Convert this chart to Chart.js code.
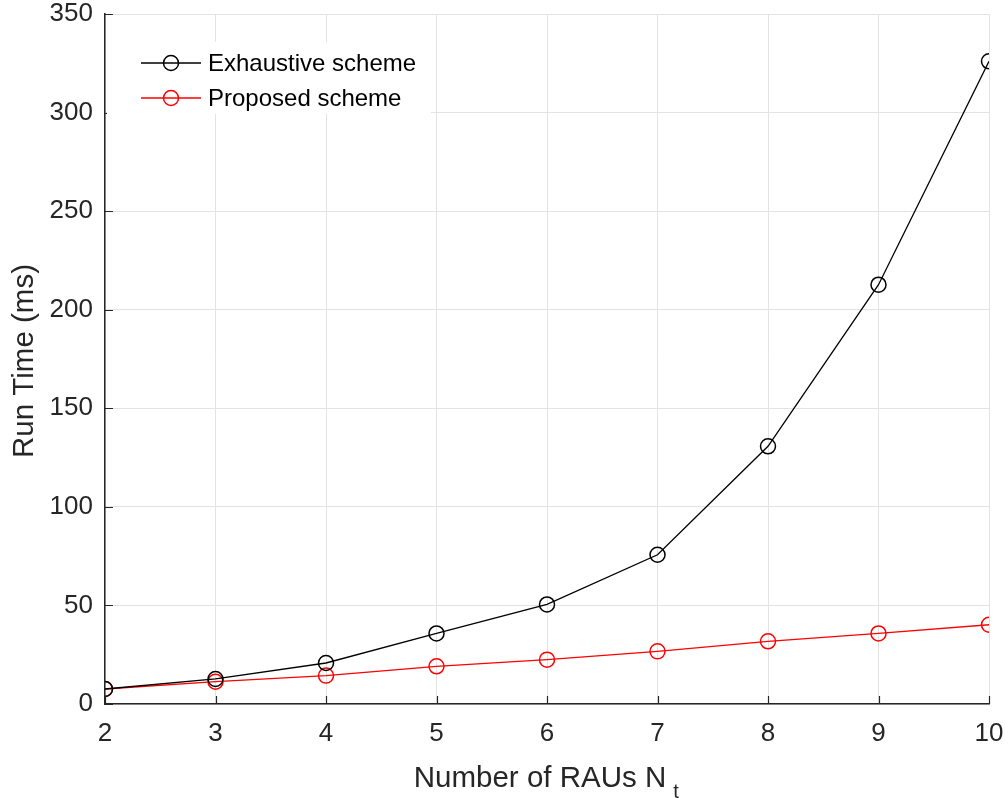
<!DOCTYPE html>
<html>
<head>
<meta charset="utf-8">
<script src="https://cdn.jsdelivr.net/npm/chart.js@4.4.1/dist/chart.umd.min.js"></script>
<style>
  html, body { margin: 0; padding: 0; background: #fff; }
  #wrap { width: 1008px; height: 798px; position: relative; }
</style>
</head>
<body>
<div id="wrap"><canvas id="c" width="1008" height="798"></canvas></div>
<script>
// Number of RAUs
const numRAUs = [2, 3, 4, 5, 6, 7, 8, 9, 10];
// Run time in milliseconds
const exhaustiveTime = [7.6, 12.7, 20.8, 35.8, 50.5, 75.7, 130.7, 212.7, 326];
const proposedTime   = [7.6, 11.3, 14.4, 19.1, 22.5, 26.7, 31.8, 35.8, 40.2];
const seriesNames = ['Exhaustive scheme', 'Proposed scheme'];
const yTicks = [0, 50, 100, 150, 200, 250, 300, 350];

const FONT = '"Liberation Sans", Arial, Helvetica, sans-serif';
const AXIS_COLOR = '#262626';

function toPoints(xs, ys) { return xs.map((x, i) => ({ x: x, y: ys[i] })); }

// Inward tick marks, MATLAB style
const innerTicks = {
  id: 'innerTicks',
  afterDatasetsDraw(chart) {
    const { ctx, chartArea: a, scales: { x, y } } = chart;
    ctx.save();
    ctx.strokeStyle = AXIS_COLOR;
    ctx.lineWidth = 1.2;
    ctx.beginPath();
    numRAUs.forEach(v => {
      const px = Math.round(x.getPixelForValue(v)) + 0.5;
      ctx.moveTo(px, a.bottom); ctx.lineTo(px, a.bottom - 8);
    });
    yTicks.forEach(v => {
      const py = Math.round(y.getPixelForValue(v)) + 0.5;
      ctx.moveTo(a.left, py); ctx.lineTo(a.left + 8, py);
    });
    ctx.stroke();
    ctx.restore();
  }
};

// Legend box inside the plot area
const innerLegend = {
  id: 'innerLegend',
  afterDatasetsDraw(chart) {
    const { ctx, chartArea: a } = chart;
    ctx.save();
    ctx.fillStyle = '#ffffff';
    ctx.fillRect(a.left + 2, 42, 431 - a.left - 2, 72);
    ctx.font = '24px ' + FONT;
    ctx.textBaseline = 'middle';
    chart.data.datasets.forEach((ds, i) => {
      const cy = 63 + i * 35;
      ctx.strokeStyle = ds.borderColor;
      ctx.lineWidth = 1.3;
      ctx.beginPath();
      ctx.moveTo(141, cy); ctx.lineTo(201, cy);
      ctx.stroke();
      ctx.lineWidth = 1.5;
      ctx.beginPath();
      ctx.arc(171, cy, 7.5, 0, Math.PI * 2);
      ctx.stroke();
      ctx.fillStyle = '#000';
      ctx.textAlign = 'left';
      ctx.fillText(ds.label, 208, cy + 1);
    });
    ctx.restore();
  }
};

// Axis titles (x title carries a subscript)
const axisTitles = {
  id: 'axisTitles',
  afterDraw(chart) {
    const { ctx, chartArea: a } = chart;
    ctx.save();
    ctx.fillStyle = AXIS_COLOR;
    ctx.font = '29.5px ' + FONT;
    ctx.textBaseline = 'alphabetic';
    const main = 'Number of RAUs N';
    const w = ctx.measureText(main).width;
    const cx = (a.left + a.right) / 2 - 7;
    ctx.textAlign = 'left';
    const x0 = cx - w / 2;
    ctx.fillText(main, x0, 787);
    ctx.font = '20px ' + FONT;
    ctx.fillText('t', x0 + w + 7, 798);
    ctx.font = '29.5px ' + FONT;
    ctx.translate(33, (a.top + a.bottom) / 2 + 2);
    ctx.rotate(-Math.PI / 2);
    ctx.textAlign = 'center';
    ctx.fillText('Run Time (ms)', 0, 0);
    ctx.restore();
  }
};

function noOverhang(s) {
  s.paddingTop = 0; s.paddingBottom = 0; s.paddingLeft = 0; s.paddingRight = 0;
}

new Chart(document.getElementById('c'), {
  type: 'line',
  data: {
    datasets: [
      {
        label: seriesNames[0],
        data: toPoints(numRAUs, exhaustiveTime),
        borderColor: '#000000',
        backgroundColor: 'rgba(0,0,0,0)',
        borderWidth: 1.3,
        pointRadius: 7.5,
        pointBorderWidth: 1.5,
        pointBackgroundColor: 'rgba(0,0,0,0)',
        pointBorderColor: '#000000',
        tension: 0
      },
      {
        label: seriesNames[1],
        data: toPoints(numRAUs, proposedTime),
        borderColor: '#ff0000',
        backgroundColor: 'rgba(0,0,0,0)',
        borderWidth: 1.3,
        pointRadius: 7.5,
        pointBorderWidth: 1.5,
        pointBackgroundColor: 'rgba(0,0,0,0)',
        pointBorderColor: '#ff0000',
        tension: 0
      }
    ]
  },
  options: {
    responsive: false,
    animation: false,
    devicePixelRatio: 1,
    layout: { padding: { top: 14, right: 19, left: 0, bottom: 0 } },
    plugins: { legend: { display: false }, tooltip: { enabled: false } },
    elements: { point: { hitRadius: 0 } },
    scales: {
      x: {
        type: 'linear',
        min: 2, max: 10,
        afterFit(s) { s.height = 94; noOverhang(s); },
        afterBuildTicks(s) { s.ticks = numRAUs.map(v => ({ value: v })); },
        grid: { color: '#e3e3e3', lineWidth: 1, drawTicks: false },
        border: { color: AXIS_COLOR, width: 1.5 },
        ticks: { color: AXIS_COLOR, font: { family: FONT, size: 26 }, padding: 14, maxRotation: 0 }
      },
      y: {
        min: 0, max: 350,
        afterFit(s) { s.width = 105; noOverhang(s); },
        afterBuildTicks(s) { s.ticks = yTicks.map(v => ({ value: v })); },
        grid: { color: '#e3e3e3', lineWidth: 1, drawTicks: false },
        border: { color: AXIS_COLOR, width: 1.5 },
        ticks: { color: AXIS_COLOR, font: { family: FONT, size: 26 }, padding: 12 }
      }
    }
  },
  plugins: [innerTicks, innerLegend, axisTitles]
});
</script>
</body>
</html>
